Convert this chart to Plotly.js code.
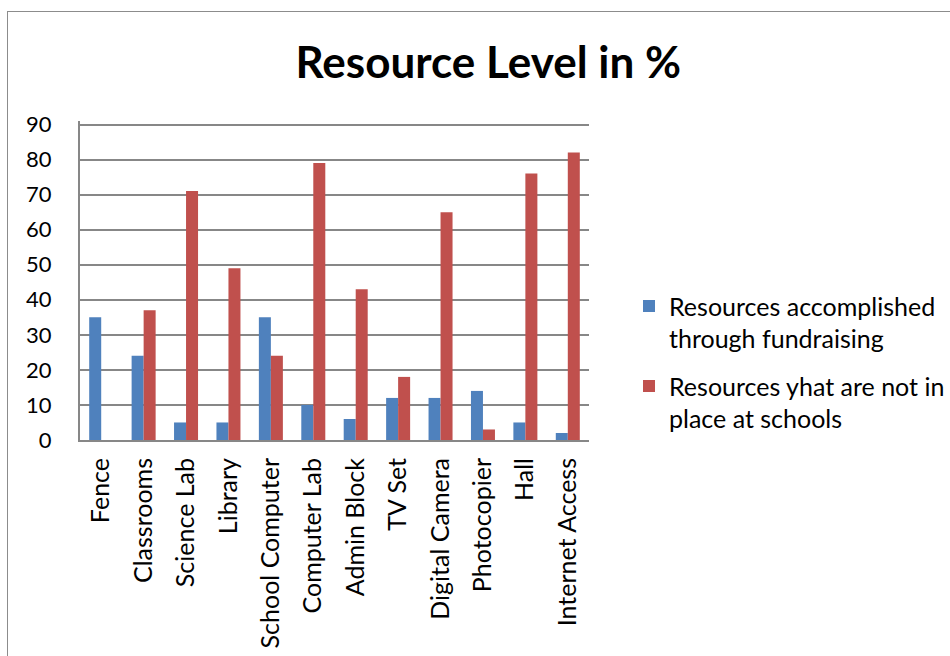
<!DOCTYPE html>
<html>
<head>
<meta charset="utf-8">
<script src="https://cdn.plot.ly/plotly-3.0.1.min.js"></script>
<style>
html,body{margin:0;padding:0;background:#fff;overflow:hidden;}
#frame{position:absolute;left:7px;top:11px;width:1200px;height:1200px;border-left:1.5px solid #8c8c8c;border-top:1.5px solid #8c8c8c;pointer-events:none;z-index:5;}
#chart{position:absolute;left:0;top:0;width:950px;height:656px;}
</style>
</head>
<body>
<div id="frame"></div>
<div id="chart"></div>
<script>
const categories = ["Fence","Classrooms","Science Lab","Library","School Computer","Computer Lab","Admin Block","TV Set","Digital Camera","Photocopier","Hall","Internet Access"];
const fundraising = [35,24,5,5,35,10,6,12,12,14,5,2];
const notInPlace = [0,37,71,49,24,79,43,18,65,3,76,82];
const seriesNames = ["Resources accomplished<br>through fundraising","Resources yhat are not in<br>place at schools"];
const yTicks = [0,10,20,30,40,50,60,70,80,90];

const font = "Lato, 'Open Sans', sans-serif";
const data = [
  {type:'bar', x:categories, y:fundraising, name:seriesNames[0], legendgroup:'a',
   marker:{color:'#4F81BD'}},
  {type:'bar', x:categories, y:notInPlace, name:seriesNames[1], legendgroup:'b',
   marker:{color:'#C0504D'}}
];
const layout = {
  width:950, height:656,
  margin:{l:80, r:361, t:120.5, b:216, pad:0, autoexpand:false},
  paper_bgcolor:'#fff', plot_bgcolor:'#fff',
  font:{family:font, color:'#000', size:22},
  title:{text:'<b>Resource Level in %</b>', font:{family:font, size:44, color:'#000'},
         x:0.514, xanchor:'center', y:0.905, yanchor:'middle'},
  barmode:'group', bargap:0.434, bargroupgap:0,
  showlegend:true,
  legend:{x:1.0786, xanchor:'left', y:0.244, yanchor:'middle', font:{family:font, size:25, color:'#000'},
          valign:'top', tracegroupgap:12, bgcolor:'rgba(0,0,0,0)'},
  xaxis:{type:'category', tickangle:-90, showgrid:false, showline:true, linecolor:'#878787', linewidth:2,
         ticks:'outside', ticklen:6, tickcolor:'rgba(0,0,0,0)', tickfont:{size:25}, fixedrange:true, automargin:false},
  yaxis:{range:[0,91], tickvals:yTicks, ticktext:yTicks.map(String), showgrid:true, gridcolor:'#878787', gridwidth:2,
         showline:true, linecolor:'#878787', linewidth:2, zeroline:false, mirror:false,
         ticks:'outside', ticklen:22, tickcolor:'rgba(0,0,0,0)', tickfont:{size:22}, fixedrange:true, automargin:false}
};
Plotly.newPlot('chart', data, layout, {staticPlot:true, displayModeBar:false});
</script>
</body>
</html>
